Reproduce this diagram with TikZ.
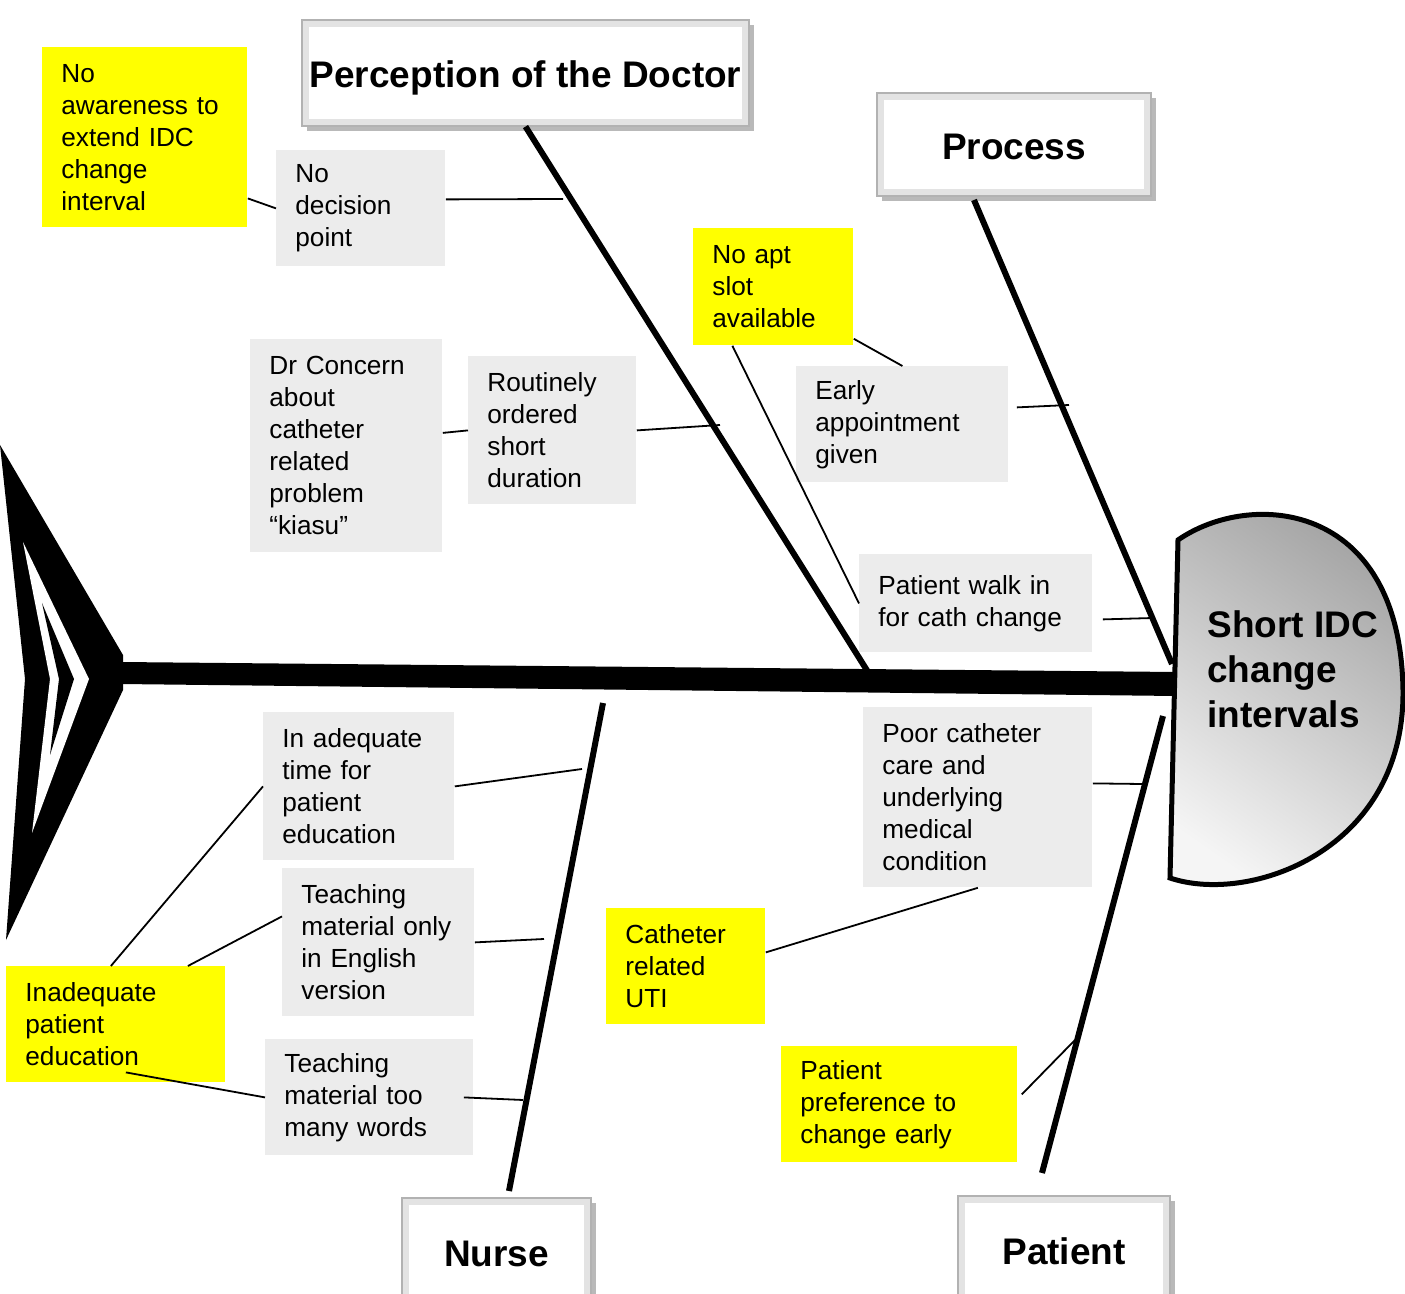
\documentclass[tikz,border=0pt]{standalone}
\usepackage{fontspec}
\setmainfont{Liberation Sans}
\usetikzlibrary{shadows,calc}
\definecolor{boxgray}{RGB}{236,236,236}
\definecolor{sticky}{RGB}{255,255,0}

\begin{document}
\begin{tikzpicture}[x=0.5pt,y=-0.5pt]
        \tikzstyle{cause}=[fill=boxgray, anchor=north west, align=left, inner xsep=9.5pt, inner ysep=0pt, font=\fontsize{13.1}{16}\selectfont]
        \tikzstyle{note}=[cause, fill=sticky]
        \tikzstyle{category}=[draw=gray!60, line width=0.6pt, fill=gray!22, inner sep=0pt,
            text height=15pt, text depth=0pt,
            drop shadow={shadow xshift=2.5pt, shadow yshift=-2.5pt, opacity=0.55},
            font=\fontsize{18.5}{22}\selectfont\bfseries,
            path picture={\fill[white] ([shift={(3.5pt,-3.5pt)}]path picture bounding box.north west) rectangle ([shift={(-3.5pt,3.5pt)}]path picture bounding box.south east);}]
        \tikzstyle{bone}=[line width=3pt]
        \tikzstyle{twig}=[line width=0.9pt]

        \useasboundingbox (0,0) rectangle (1405,1294);

        % Tail of the fish
        \fill (0,445) -- (123,655) -- (123,690) -- (6,940) -- (25,679) -- cycle;
        \fill[white] (23,542) -- (89,679) -- (32,833) -- (50,679) -- cycle;
        \fill (42,603) -- (74,679) -- (50,755) -- (59,679) -- cycle;

        % Spine
        \fill (120,662) -- (1176,672) -- (1176,696) -- (120,684) -- cycle;

        % Category boxes
        \node[category, minimum width=223.5pt, minimum height=53pt] (doc) at (525.5,73) {Perception of the Doctor};
        \node[category, minimum width=137pt, minimum height=51.5pt] (proc) at (1014,144.5) {Process};
        \node[category, minimum width=94.5pt, minimum height=53pt] (nurse) at (496.5,1251) {Nurse};
        \node[category, minimum width=106pt, minimum height=53pt] (pat) at (1064,1249) {Patient};

        % Bones
        \coordinate (docB) at (868,672);
        \coordinate (procA) at (974,200);
        \coordinate (procB) at (1172,664);
        \coordinate (nurA) at (603,703);
        \coordinate (nurB) at (509,1191);
        \coordinate (patA) at (1163,716);
        \coordinate (patB) at (1042,1173);
        \draw[bone] (doc.south) -- (docB);
        \draw[bone] (procA) -- (procB);
        \draw[bone] (nurA) -- (nurB);
        \draw[bone] (patA) -- (patB);

        % Head
        \draw[line width=2.5pt, top color=gray!72, bottom color=gray!8, shading angle=-35]
            (1178,540) .. controls (1250,490) and (1400,500) .. (1403,690)
            .. controls (1405,850) and (1250,905) .. (1170,878) -- cycle;
        \node[anchor=west, align=left, inner sep=0pt, font=\fontsize{18.5}{22.5}\selectfont\bfseries] (head) at (1207,669) {Short IDC\\change\\intervals};

        % Causes: doctor
        \node[note, text width=83.5pt, minimum height=90pt] (noaware) at (42,47) {No\\awareness to\\extend IDC\\change\\interval};
        \node[cause, text width=65.5pt, minimum height=58pt] (nodec) at (276,150) {No\\decision\\point};
        \node[cause, text width=77pt, minimum height=106.5pt] (concern) at (250,339) {Dr Concern\\about\\catheter\\related\\problem\\“kiasu”};
        \node[cause, text width=65pt, minimum height=74pt] (routine) at (468,356) {Routinely\\ordered\\short\\duration};

        % Causes: process
        \node[note, text width=61pt, minimum height=58.5pt] (noapt) at (693,228) {No apt\\slot\\available};
        \node[cause, text width=87pt, minimum height=58pt] (early) at (796,366) {Early\\appointment\\given};
        \node[cause, text width=97.5pt, minimum height=49pt] (walkin) at (859,554) {Patient walk in\\for cath change};

        % Causes: patient
        \node[cause, text width=95.5pt, minimum height=90pt] (poorcare) at (863,707) {Poor catheter\\care and\\underlying\\medical\\condition};
        \node[note, text width=60.5pt, minimum height=58pt] (uti) at (606,908) {Catheter\\related\\UTI};
        \node[note, text width=99pt, minimum height=58pt] (pref) at (781,1046) {Patient\\preference to\\change early};

        % Causes: nurse
        \node[cause, text width=76.5pt, minimum height=74pt] (inadtime) at (263,712) {In adequate\\time for\\patient\\education};
        \node[cause, text width=77pt, minimum height=74pt] (english) at (282,868) {Teaching\\material only\\in English\\version};
        \node[cause, text width=85pt, minimum height=58pt] (words) at (265,1039) {Teaching\\material too\\many words};
        \node[note, text width=90.5pt, minimum height=58pt] (inadpat) at (6,966) {Inadequate\\patient\\education};

        % Twigs
        \coordinate (d1) at (563,199);
        \coordinate (d2) at (720,425);
        \coordinate (p1) at (1069,405);
        \coordinate (p2) at (1153,618);
        \coordinate (q1) at (1142,784);
        \coordinate (q2) at (1075,1040);
        \coordinate (n1) at (582,769);
        \coordinate (n2) at (544,939);
        \coordinate (n3) at (523,1100);
        \draw[twig] ([yshift=-30.5pt]noaware.east) -- (nodec.west);
        \draw[twig] ([yshift=4.5pt]nodec.east) -- (d1);
        \draw[twig] ([yshift=6.5pt]concern.east) -- (routine.west);
        \draw[twig] (routine.east) -- (d2);
        \draw[twig] ([yshift=3.5pt]noapt.south east) -- (early.north);
        \draw[twig] ([xshift=-20.5pt]noapt.south) -- (walkin.west);
        \draw[twig] ([yshift=8.5pt,xshift=4pt]early.east) -- (p1);
        \draw[twig] ([yshift=-8pt,xshift=5pt]walkin.east) -- (p2);
        \draw[twig] ([yshift=7pt]poorcare.east) -- (q1);
        \draw[twig] ([yshift=7pt]uti.east) -- (poorcare.south);
        \draw[twig] ([yshift=5pt,xshift=2pt]pref.east) -- (q2);
        \draw[twig] (inadtime.east) -- (n1);
        \draw[twig] ([xshift=-2.5pt]inadpat.north) -- (inadtime.west);
        \draw[twig] ([xshift=36pt]inadpat.north) -- ([yshift=13pt]english.west);
        \draw[twig] (english.east) -- (n2);
        \draw[twig] ([xshift=5pt,yshift=-24pt]inadpat.center) -- (words.west);
        \draw[twig] ([xshift=-5pt]words.east) -- (n3);
\end{tikzpicture}
\end{document}
